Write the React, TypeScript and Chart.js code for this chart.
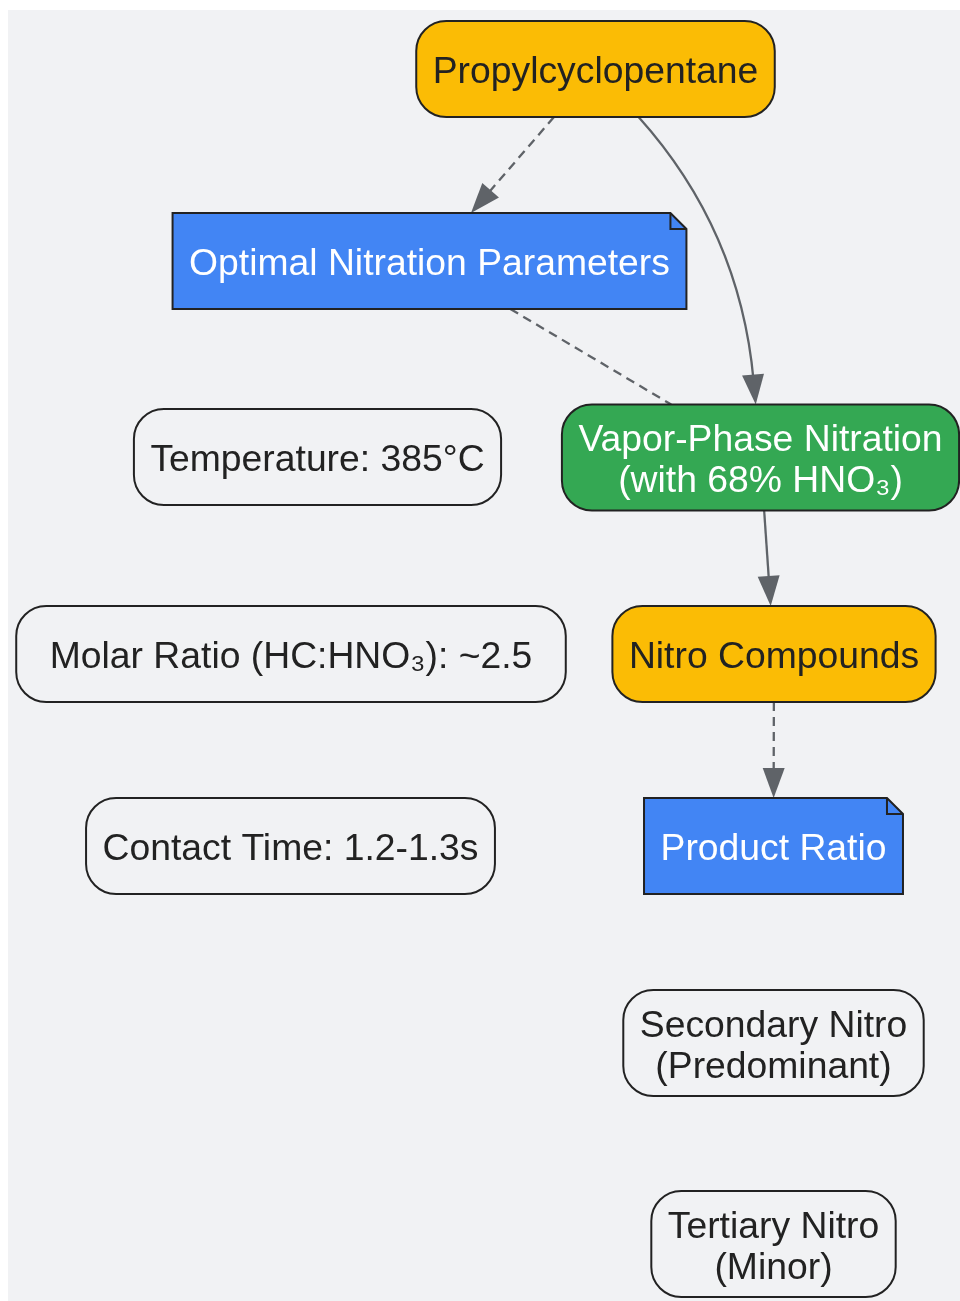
import React, { useEffect, useRef } from "react";
import { Chart, registerables } from "chart.js";
Chart.register(...registerables);

const nodeLabels = [
  "Propylcyclopentane",
  "Optimal Nitration Parameters",
  "Temperature: 385°C",
  "Vapor-Phase Nitration\n(with 68% HNO₃)",
  "Molar Ratio (HC:HNO₃): ~2.5",
  "Nitro Compounds",
  "Contact Time: 1.2-1.3s",
  "Product Ratio",
  "Secondary Nitro\n(Predominant)",
  "Tertiary Nitro\n(Minor)",
];
const nodeX = [595.5, 429.5, 317.5, 760.5, 291, 774, 290.5, 773.5, 773.5, 773.5];
const nodeY = [69, 261, 457, 457.5, 654, 654, 846, 846, 1043, 1244];
const nodeKind = ["start", "note", "param", "process", "param", "start", "param", "note", "param", "param"];
const nodeExtraWidth = [0, 0, 0, 0, 34, 0, 0, 0, 0, 0];

const edgeFrom = [0, 0, 1, 3, 5];
const edgeTo = [1, 3, 3, 5, 7];
const edgeDashed = [true, false, true, false, true];
const edgeArrow = [true, true, false, true, true];
const edgeViaX: (number | null)[] = [null, 740, null, null, null];
const edgeViaY: (number | null)[] = [null, 230, null, null, null];

const KIND_STYLE: Record<string, { fill: string; text: string; shape: string }> = {
  start: { fill: "#fbbc05", text: "#222222", shape: "round" },
  note: { fill: "#4285f4", text: "#ffffff", shape: "note" },
  process: { fill: "#34a853", text: "#ffffff", shape: "round" },
  param: { fill: "#f1f2f4", text: "#222222", shape: "round" },
};

const FONT = '37.3px "Liberation Sans", Arial, sans-serif';
const BG = "#f1f2f4";
const EDGE = "#5f6368";
const BORDER = "#222222";

const diagramPlugin = {
  id: "diagram",
  beforeDraw(chart: any) {
    const { ctx } = chart;
    const xs = chart.scales.x;
    const ys = chart.scales.y;
    ctx.save();
    ctx.fillStyle = "#ffffff";
    ctx.fillRect(0, 0, chart.width, chart.height);
    const x0 = xs.getPixelForValue(8);
    const y0 = ys.getPixelForValue(10);
    const x1 = xs.getPixelForValue(960);
    const y1 = ys.getPixelForValue(1301);
    ctx.fillStyle = BG;
    ctx.fillRect(x0, y0, x1 - x0, y1 - y0);
    ctx.restore();
  },
  afterDatasetsDraw(chart: any) {
    const { ctx } = chart;
    const xs = chart.scales.x;
    const ys = chart.scales.y;
    ctx.save();
    ctx.font = FONT;

    const boxes = nodeLabels.map((label, i) => {
      const lines = label.split("\n");
      const w = Math.max(...lines.map((l) => ctx.measureText(l).width)) + 33 + nodeExtraWidth[i];
      const h = Math.max(96, lines.length * 41 + 24);
      const cx = xs.getPixelForValue(nodeX[i]);
      const cy = ys.getPixelForValue(nodeY[i]);
      return { cx, cy, w, h, lines };
    });

    const clip = (b: any, tx: number, ty: number) => {
      const dx = tx - b.cx;
      const dy = ty - b.cy;
      const t = Math.min(
        dx !== 0 ? b.w / 2 / Math.abs(dx) : Infinity,
        dy !== 0 ? b.h / 2 / Math.abs(dy) : Infinity
      );
      return [b.cx + dx * t, b.cy + dy * t];
    };

    const AL = 30;
    const AW = 11;
    const drawArrow = (tx: number, ty: number, ux: number, uy: number) => {
      const bx = tx - ux * AL;
      const by = ty - uy * AL;
      ctx.setLineDash([]);
      ctx.fillStyle = EDGE;
      ctx.beginPath();
      ctx.moveTo(tx, ty);
      ctx.lineTo(bx - uy * AW, by + ux * AW);
      ctx.lineTo(bx + uy * AW, by - ux * AW);
      ctx.closePath();
      ctx.fill();
    };

    edgeFrom.forEach((f, i) => {
      const a = boxes[f];
      const b = boxes[edgeTo[i]];
      ctx.strokeStyle = EDGE;
      ctx.lineWidth = 2.3;
      ctx.setLineDash(edgeDashed[i] ? [9, 6] : []);
      const vx = edgeViaX[i];
      const vy = edgeViaY[i];
      const short = edgeArrow[i] ? AL * 0.8 : 0;
      if (vx !== null && vy !== null) {
        const px = xs.getPixelForValue(vx);
        const py = ys.getPixelForValue(vy);
        const [sx, sy] = clip(a, px, py);
        const [ex, ey] = clip(b, px, py);
        let ux = ex - px;
        let uy = ey - py;
        const len = Math.hypot(ux, uy);
        ux /= len;
        uy /= len;
        ctx.beginPath();
        ctx.moveTo(sx, sy);
        ctx.quadraticCurveTo(px, py, ex - ux * short, ey - uy * short);
        ctx.stroke();
        if (edgeArrow[i]) drawArrow(ex, ey, ux, uy);
      } else {
        const [sx, sy] = clip(a, b.cx, b.cy);
        const [ex, ey] = clip(b, a.cx, a.cy);
        let ux = ex - sx;
        let uy = ey - sy;
        const len = Math.hypot(ux, uy);
        ux /= len;
        uy /= len;
        ctx.beginPath();
        ctx.moveTo(sx, sy);
        ctx.lineTo(ex - ux * short, ey - uy * short);
        ctx.stroke();
        if (edgeArrow[i]) drawArrow(ex, ey, ux, uy);
      }
    });

    ctx.setLineDash([]);
    boxes.forEach((b, i) => {
      const st = KIND_STYLE[nodeKind[i]];
      const l = b.cx - b.w / 2;
      const r = b.cx + b.w / 2;
      const t = b.cy - b.h / 2;
      const bt = b.cy + b.h / 2;
      ctx.lineWidth = 2;
      ctx.strokeStyle = BORDER;
      ctx.fillStyle = st.fill;
      ctx.beginPath();
      if (st.shape === "note") {
        const f = 16;
        ctx.moveTo(l, t);
        ctx.lineTo(r - f, t);
        ctx.lineTo(r, t + f);
        ctx.lineTo(r, bt);
        ctx.lineTo(l, bt);
        ctx.closePath();
        ctx.fill();
        ctx.stroke();
        ctx.beginPath();
        ctx.moveTo(r - f, t);
        ctx.lineTo(r - f, t + f);
        ctx.lineTo(r, t + f);
        ctx.stroke();
      } else {
        ctx.roundRect(l, t, b.w, b.h, 30);
        ctx.fill();
        ctx.stroke();
      }
      ctx.fillStyle = st.text;
      ctx.textAlign = "center";
      ctx.textBaseline = "alphabetic";
      const n = b.lines.length;
      b.lines.forEach((line: string, k: number) => {
        const y = b.cy + 14 + (k - (n - 1) / 2) * 41;
        ctx.fillText(line, b.cx, y);
      });
    });
    ctx.restore();
  },
};

export default function App() {
  const ref = useRef<HTMLCanvasElement | null>(null);
  useEffect(() => {
    if (!ref.current) return;
    const chart = new Chart(ref.current, {
      type: "scatter",
      data: {
        datasets: [
          {
            label: "nodes",
            data: nodeX.map((x, i) => ({ x, y: nodeY[i] })),
            pointRadius: 0,
            pointHoverRadius: 0,
          },
        ],
      },
      options: {
        animation: false,
        responsive: true,
        maintainAspectRatio: false,
        layout: { padding: 0 },
        events: [],
        plugins: { legend: { display: false }, tooltip: { enabled: false } },
        scales: {
          x: { type: "linear", min: 0, max: 960, display: false },
          y: { type: "linear", min: 0, max: 1301, reverse: true, display: false },
        },
      },
      plugins: [diagramPlugin],
    });
    return () => chart.destroy();
  }, []);
  return (
    <div style={{ position: "absolute", left: 0, top: 0, width: 960, height: 1301 }}>
      <canvas ref={ref} />
    </div>
  );
}
